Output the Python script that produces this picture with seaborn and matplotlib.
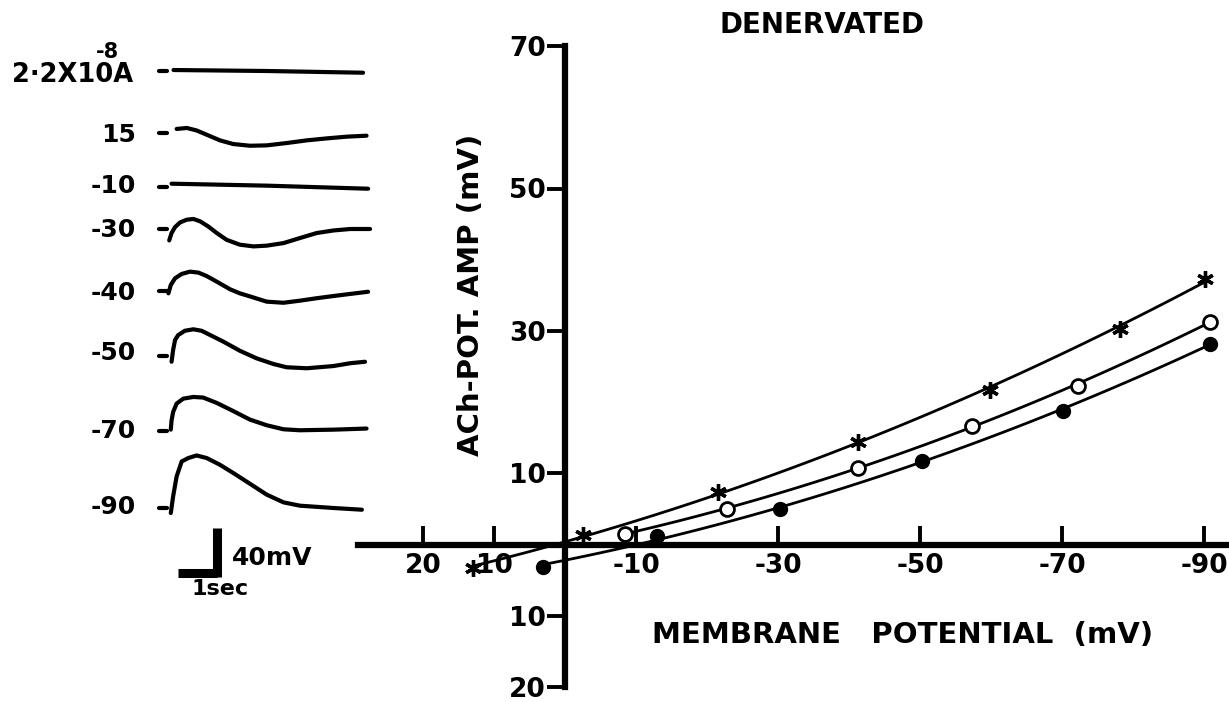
import numpy as np
import pandas as pd
import matplotlib
matplotlib.use("Agg")
import matplotlib.pyplot as plt
import seaborn as sns

sns.set_theme(style="white")
plt.rcParams['font.family'] = ['DejaVu Sans']
plt.rcParams['font.weight'] = 'bold'

W, H = 1229, 702

# ---------------- data: ACh-potential amplitude vs membrane potential ----------------
membrane_ticks = [20, 10, -10, -30, -50, -70, -90]
membrane_tick_labels = ["20", "10", "-10", "-30", "-50", "-70", "-90"]
amp_ticks = [70, 50, 30, 10, -10, -20]
amp_tick_labels = ["70", "50", "30", "10", "10", "20"]

star_v = [13.0, -2.6, -21.6, -41.2, -59.8, -78.1, -90.1]
star_amp = [-3.3, 1.3, 7.4, 14.4, 21.7, 30.3, 37.3]
open_v = [-8.4, -22.8, -41.2, -57.3, -72.3, -90.8]
open_amp = [1.5, 5.0, 10.8, 16.7, 22.3, 31.3]
filled_v = [3.1, -13.0, -30.3, -50.3, -70.1, -90.8]
filled_amp = [-3.1, 1.2, 5.0, 11.7, 18.8, 28.2]

# ---------------- data: recorded ACh potentials (time s, amplitude mV) ----------------
trace_labels = ["15", "-10", "-30", "-40", "-50", "-70", "-90"]
trace_t = [
    [0.17, 0.43, 0.68, 0.94, 1.28, 1.62, 2.05, 2.48, 2.99, 3.51, 4.02, 4.53, 5.04],
    [0.04, 2.48, 5.08],
    [-0.02, 0.04, 0.13, 0.26, 0.43, 0.60, 0.77, 0.98, 1.20, 1.45, 1.79, 2.14, 2.48,
     2.91, 3.33, 3.76, 4.19, 4.62, 5.13],
    [-0.04, 0.02, 0.13, 0.30, 0.51, 0.73, 0.94, 1.20, 1.54, 1.79, 2.10, 2.48, 2.91,
     3.33, 3.76, 4.19, 4.62, 5.08],
    [0.04, 0.08, 0.13, 0.21, 0.38, 0.60, 0.81, 1.03, 1.37, 1.79, 2.22, 2.65, 2.99,
     3.51, 4.19, 4.62, 5.00],
    [0.02, 0.04, 0.08, 0.17, 0.34, 0.60, 0.85, 1.20, 1.62, 2.05, 2.48, 2.91, 3.33,
     4.19, 5.04],
    [0.02, 0.08, 0.17, 0.30, 0.47, 0.68, 0.94, 1.28, 1.62, 2.05, 2.48, 2.91, 3.33,
     4.19, 4.92],
]
trace_amp = [
    [3.3, 4.1, 2.1, -1.4, -6.0, -9.0, -10.4, -10.1, -8.2, -6.0, -4.4, -3.0, -2.2],
    [2.7, 1.1, -1.4],
    [-9.3, -3.3, 1.6, 5.4, 7.6, 8.2, 6.3, 2.1, -3.3, -8.8, -12.8, -14.2, -13.6,
     -11.5, -7.4, -3.3, -1.2, 0.0, 0.0],
    [-1.9, 4.9, 10.4, 13.9, 15.8, 15.0, 12.2, 7.6, 1.4, -1.9, -4.9, -8.7, -9.6,
     -7.9, -5.9, -4.1, -2.4, -0.6],
    [-4.7, 4.9, 13.1, 17.1, 20.6, 21.8, 20.6, 17.1, 11.7, 4.3, -1.9, -6.5, -9.2,
     -10.0, -8.2, -5.9, -4.7],
    [1.1, 8.7, 15.5, 22.4, 26.4, 27.8, 27.3, 22.9, 16.3, 9.3, 4.7, 1.4, 0.6,
     1.1, 2.0],
    [-4.1, 9.5, 25.8, 38.0, 40.8, 42.9, 40.8, 35.3, 28.6, 19.8, 10.9, 4.6, 1.9,
     0.0, -1.4],
]
current_t = [0.09, 2.48, 4.95]
current_amp = [0.8, 0.0, -1.4]
scale_mv = 40
scale_s = 1

# ---------------- figure ----------------
fig = plt.figure(figsize=(W / 100, H / 100), dpi=100)

def fx(px):
    return px / W

def fy(py):
    return 1 - py / H

# ---- main I-V axes ----
X0_PX, PXV = 565.0, 7.1     # x=0 pixel, pixels per mV
Y0_PX, PYV = 544.5, 7.12
left_px = 358
ax = fig.add_axes([fx(left_px), 0, 1 - fx(left_px), 1])
ax.set_facecolor("none")
ax.set_xlim((X0_PX - left_px) / PXV, -(W - X0_PX) / PXV)
ax.set_ylim(-(H - Y0_PX) / PYV, Y0_PX / PYV)

for s in ["top", "right"]:
    ax.spines[s].set_visible(False)
ax.spines["left"].set_position(("data", 0))
ax.spines["bottom"].set_position(("data", 0))
ax.spines["left"].set_bounds(-20, 70)
ax.spines["bottom"].set_bounds((X0_PX - left_px) / PXV, -(W - X0_PX) / PXV)
for s in ["left", "bottom"]:
    ax.spines[s].set_linewidth(4.5)
    ax.spines[s].set_color("black")

ax.set_xticks(membrane_ticks)
ax.set_xticklabels(membrane_tick_labels)
ax.set_yticks(amp_ticks)
ax.set_yticklabels(amp_tick_labels)
ax.tick_params(axis="x", direction="in", length=14, width=2.8, color="black",
               labelsize=19, pad=6, bottom=True, labelcolor="black")
ax.tick_params(axis="y", direction="out", length=13, width=2.8, color="black",
               labelsize=19, pad=1, left=True, labelcolor="black")
for lab in ax.get_xticklabels() + ax.get_yticklabels():
    lab.set_fontweight("bold")

line_kws = dict(color="black", linewidth=2.0)
for v, a in [(star_v, star_amp), (open_v, open_amp), (filled_v, filled_amp)]:
    df = pd.DataFrame({"v": v, "amp": a})
    sns.regplot(data=df, x="v", y="amp", order=2, ci=None, scatter=False,
                truncate=True, line_kws=line_kws, ax=ax)
ax.set_xlabel("")
ax.set_ylabel("")

ax.plot(star_v, star_amp, linestyle="none", marker=(6, 2, 0), markersize=12,
        markeredgewidth=2.4, color="black", zorder=5)
ax.plot(open_v, open_amp, linestyle="none", marker="o", markersize=10,
        markerfacecolor="white", markeredgecolor="black", markeredgewidth=2, zorder=5)
ax.plot(filled_v, filled_amp, linestyle="none", marker="o", markersize=10,
        color="black", zorder=5)

tc = "black"
fig.text(fx(822), fy(25), "DENERVATED", ha="center", va="center", fontsize=20,
         fontweight="bold", color=tc)
fig.text(fx(471), fy(295), "ACh-POT. AMP (mV)", ha="center", va="center",
         rotation=90, fontsize=21, fontweight="bold", color=tc)
fig.text(fx(903), fy(635), "MEMBRANE   POTENTIAL  (mV)", ha="center", va="center",
         fontsize=21, fontweight="bold", color=tc)

# ---- traces axes ----
T0_PX, PXS = 170.0, 39.0     # t=0 pixel, pixels per second
PMV = 49.0 / 40.0            # pixels per mV
tr_w = 560
ax2 = fig.add_axes([0, 0, fx(tr_w), 1])
ax2.set_axis_off()
ax2.set_xlim(-T0_PX / PXS, (tr_w - T0_PX) / PXS)
ax2.set_ylim(-H / PMV, 0)

baselines_px = [133, 187, 229, 291, 356, 431, 508]
label_y_px = [135, 186, 230, 293, 353, 431, 507]
dash = [-0.27, -0.08]
tr_kw = dict(color="black", linewidth=3.0, solid_capstyle="round", solid_joinstyle="round")

# current trace
b0 = -71 / PMV
ax2.plot(dash, [b0, b0], **tr_kw)
ax2.plot(current_t, np.array(current_amp) + b0, **tr_kw)
fig.text(fx(133), fy(75), "2·2X10A", ha="right", va="center", fontsize=18.5,
         fontweight="bold", color=tc)
fig.text(fx(107), fy(52), "-8", ha="center", va="center", fontsize=15,
         fontweight="bold", color=tc)

for lab, t, a, bpx, lpx in zip(trace_labels, trace_t, trace_amp, baselines_px, label_y_px):
    b = -bpx / PMV
    ax2.plot(dash, [b, b], **tr_kw)
    ax2.plot(t, np.array(a) + b, **tr_kw)
    fig.text(fx(136), fy(lpx), lab, ha="right", va="center", fontsize=18,
             fontweight="bold", color=tc)

# scale bar
sb_t = (217 - T0_PX) / PXS
sb_b = -577 / PMV
ax2.plot([sb_t, sb_t], [sb_b, sb_b + scale_mv], color="black", linewidth=6.5,
         solid_capstyle="butt")
ax2.plot([sb_t - scale_s, sb_t], [sb_b + 3.5, sb_b + 3.5], color="black", linewidth=6.5,
         solid_capstyle="butt")
fig.text(fx(272), fy(558), "40mV", ha="center", va="center", fontsize=18,
         fontweight="bold", color=tc)
fig.text(fx(220), fy(589), "1sec", ha="center", va="center", fontsize=16,
         fontweight="bold", color=tc)

fig.savefig("out.png", dpi=100)
